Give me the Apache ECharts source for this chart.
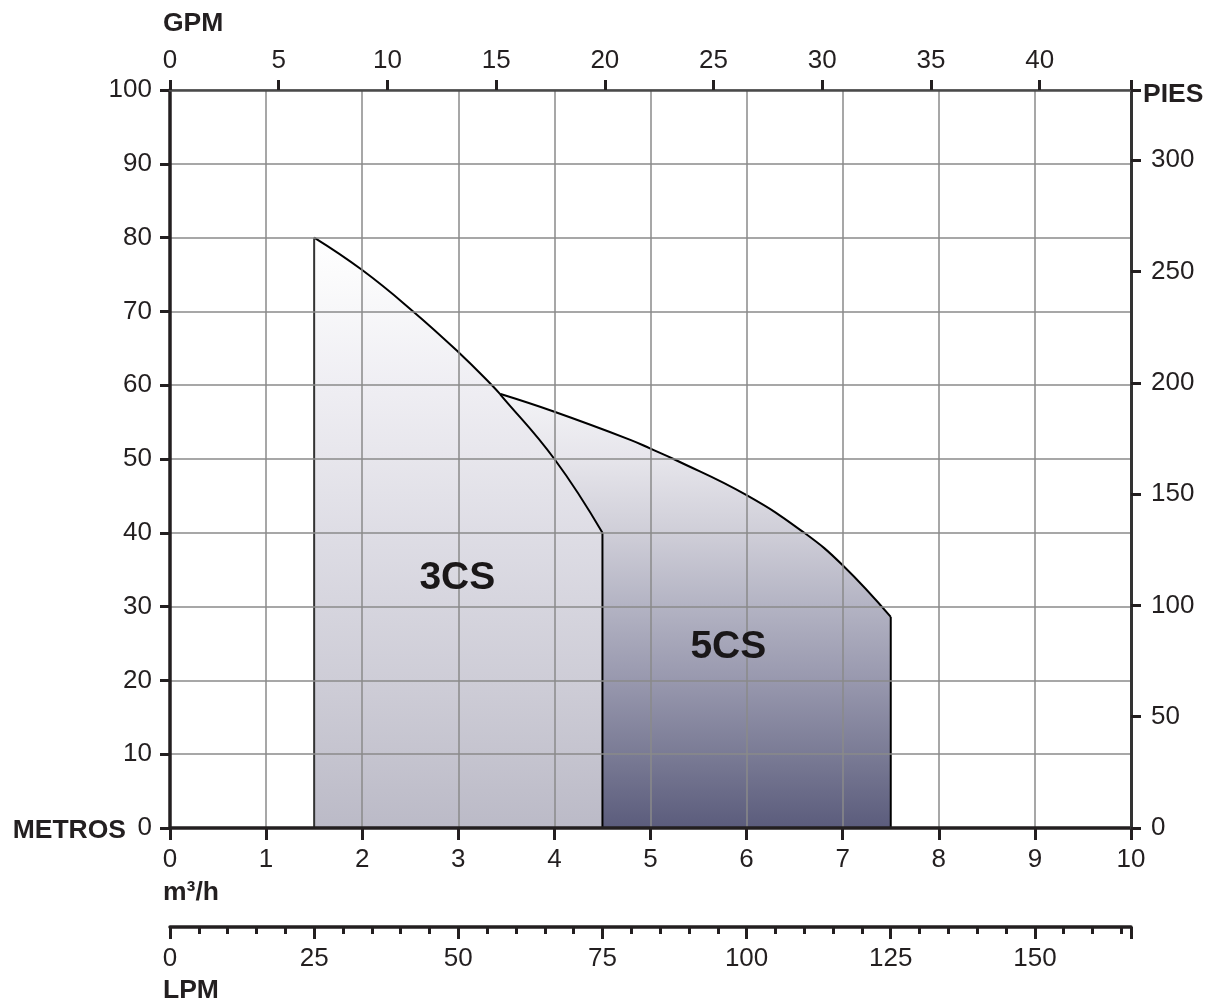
<!DOCTYPE html>
<html>
<head>
<meta charset="utf-8">
<script src="https://cdn.jsdelivr.net/npm/echarts@6/dist/echarts.min.js"></script>
<style>
html,body{margin:0;padding:0;background:#fff;}
#c{width:1212px;height:1006px;}
</style>
</head>
<body>
<div id="c"></div>
<script>
// ---- data ----
const flowTicks = [0,1,2,3,4,5,6,7,8,9,10];        // m3/h
const headTicks = [0,10,20,30,40,50,60,70,80,90,100]; // metros
const gpmTicks = [0,5,10,15,20,25,30,35,40];
const piesTicks = [0,50,100,150,200,250,300];
const lpmTicks = [0,25,50,75,100,125,150];
// scale ratios as drawn in the reference
const GPM_PER_M3H = 4.42;
const FT_PER_M = 3.315;
const LPM_PER_M3H = 16.6667;

const curve3CS = [[1.5,80],[2,75.6],[2.53,70],[3,64.5],[3.35,60],[3.44,58.7],[4,50],[4.5,40]];
const curve5CS = [[3.44,58.8],[4,56.4],[4.79,52.6],[5,51.4],[5.24,50],[6,45.1],[6.6,40],[7,35.6],[7.5,28.6]];
const modelNames = ['3CS','5CS'];
const labelAnchors = [[2.99,33.9],[5.81,24.5]];

// ---- chart ----
const FONT = '"Liberation Sans", Arial, Helvetica, sans-serif';
const TXT = '#231f20';
const TICKFS = 26;
const TITLEFONT = 'bold 26.5px ' + FONT;
const chart = echarts.init(document.getElementById('c'));

function vEdge(pt){ return [[pt[0],0],[pt[0],pt[1]]]; }

const grad3 = new echarts.graphic.LinearGradient(0,0,0,1,[
  {offset:0,color:'#ffffff'},{offset:0.125,color:'#f7f7f9'},{offset:0.25,color:'#efeef3'},
  {offset:0.375,color:'#e7e6ec'},{offset:0.5,color:'#dedde5'},{offset:0.625,color:'#d6d5de'},
  {offset:0.75,color:'#cecdd7'},{offset:0.875,color:'#c5c4cf'},{offset:1,color:'#bbbac7'}]);
const grad5 = new echarts.graphic.LinearGradient(0,0,0,1,[
  {offset:0,color:'#f3f3f6'},{offset:0.15,color:'#e6e5eb'},{offset:0.32,color:'#cfced8'},
  {offset:0.49,color:'#b3b3c3'},{offset:0.66,color:'#9898ae'},{offset:0.83,color:'#7a7b95'},
  {offset:1,color:'#5b5c7c'}]);

const lineBase = {type:'line', xAxisIndex:0, yAxisIndex:0, symbol:'none', silent:true, z:1};

const option = {
  animation:false,
  backgroundColor:'#ffffff',
  textStyle:{fontFamily:FONT},
  grid:[
    {left:170, right:81, top:90, bottom:178, containLabel:false},
    {left:170, right:81, top:926, height:1, containLabel:false}
  ],
  xAxis:[
    {type:'value', gridIndex:0, position:'bottom', min:0, max:10, interval:1, z:3,
     axisLine:{show:true, onZero:false, lineStyle:{color:TXT, width:3.5}},
     axisTick:{show:true, inside:false, length:12, lineStyle:{color:TXT, width:3}},
     axisLabel:{color:TXT, fontSize:TICKFS, margin:19, fontFamily:FONT},
     splitLine:{show:true, lineStyle:{color:'#8a8a8a', width:1.5}}},
    {type:'value', gridIndex:0, position:'top', min:0, max:10*GPM_PER_M3H, interval:5, z:4,
     axisLine:{show:true, onZero:false, lineStyle:{color:'#4a4a4a', width:2.5}},
     axisTick:{show:true, inside:false, length:10, lineStyle:{color:TXT, width:3}},
     axisLabel:{color:TXT, fontSize:TICKFS, margin:16, fontFamily:FONT,
       formatter:function(v){return gpmTicks.indexOf(v)>=0? String(v):'';}},
     splitLine:{show:false}},
    {type:'value', gridIndex:1, position:'bottom', min:0, max:10*LPM_PER_M3H, interval:25, z:3,
     axisLine:{show:true, onZero:false, lineStyle:{color:TXT, width:3.5}},
     axisTick:{show:true, inside:false, length:12, lineStyle:{color:TXT, width:3}},
     minorTick:{show:true, splitNumber:5, length:7, lineStyle:{color:TXT, width:3}},
     axisLabel:{color:TXT, fontSize:TICKFS, margin:19, fontFamily:FONT,
       formatter:function(v){return lpmTicks.indexOf(v)>=0? String(v):'';}},
     splitLine:{show:false}}
  ],
  yAxis:[
    {type:'value', gridIndex:0, position:'left', min:0, max:100, interval:10, z:3,
     axisLine:{show:true, onZero:false, lineStyle:{color:TXT, width:3.5}},
     axisTick:{show:true, inside:false, length:10, lineStyle:{color:TXT, width:3}},
     axisLabel:{color:TXT, fontSize:TICKFS, margin:18, fontFamily:FONT},
     splitLine:{show:true, lineStyle:{color:'#8a8a8a', width:1.5}}},
    {type:'value', gridIndex:0, position:'right', min:0, max:100*FT_PER_M, interval:50, z:4,
     axisLine:{show:true, onZero:false, lineStyle:{color:'#333333', width:3}},
     axisTick:{show:true, inside:false, length:10, lineStyle:{color:TXT, width:3}},
     axisLabel:{color:TXT, fontSize:TICKFS, margin:20, fontFamily:FONT,
       formatter:function(v){return piesTicks.indexOf(v)>=0? String(v):'';}},
     splitLine:{show:false}},
    {type:'value', gridIndex:1, min:0, max:1, show:false}
  ],
  series:[
    Object.assign({}, lineBase, {name:'5CS', data:curve5CS, smooth:0.45,
      lineStyle:{color:'#000', width:2}, areaStyle:{color:grad5, opacity:1, origin:'start'}}),
    Object.assign({}, lineBase, {name:'5CS-edge', data:vEdge(curve5CS[curve5CS.length-1]),
      lineStyle:{color:'#000', width:2}}),
    Object.assign({}, lineBase, {name:'3CS', data:curve3CS, smooth:0.45,
      lineStyle:{color:'#000', width:2}, areaStyle:{color:grad3, opacity:1, origin:'start'}}),
    Object.assign({}, lineBase, {name:'3CS-left', data:vEdge(curve3CS[0]),
      lineStyle:{color:'#333', width:2}}),
    Object.assign({}, lineBase, {name:'3CS-right', data:vEdge(curve3CS[curve3CS.length-1]),
      lineStyle:{color:'#000', width:2}}),
    {type:'scatter', xAxisIndex:0, yAxisIndex:0, symbolSize:0, itemStyle:{color:'#ffffff', opacity:1}, z:5, silent:true,
     data: modelNames.map(function(n,i){return {name:n, value:labelAnchors[i]};}),
     label:{show:true, position:'inside', formatter:'{b}', color:'#1a1718', opacity:1, fontSize:39, fontWeight:'bold', fontFamily:FONT}}
  ],
  graphic:[
    {type:'text', left:163, top:10, style:{text:'GPM', font:TITLEFONT, fill:TXT}},
    {type:'text', left:1143, top:81, style:{text:'PIES', font:TITLEFONT, fill:TXT}},
    {type:'text', right:1212-126, top:817, style:{text:'METROS', font:TITLEFONT, fill:TXT}},
    {type:'text', left:163, top:879, style:{text:'m³/h', font:TITLEFONT, fill:TXT}},
    {type:'text', left:163, top:977, style:{text:'LPM', font:TITLEFONT, fill:TXT}}
  ]
};
chart.setOption(option);
</script>
</body>
</html>
